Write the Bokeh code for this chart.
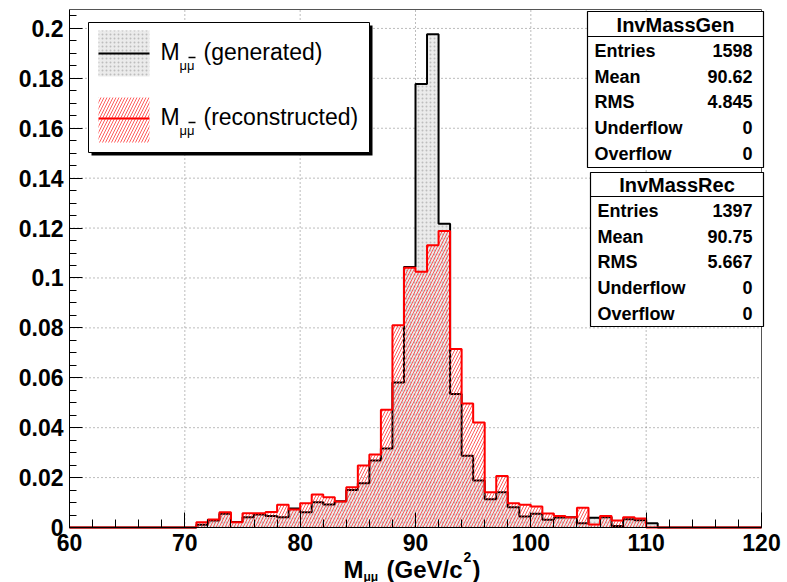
import numpy as np
from bokeh.plotting import figure
from bokeh.models import Range1d, FixedTicker, Label, ColumnDataSource
from bokeh.embed import file_html
from bokeh.resources import INLINE

# ---------------- data ----------------
bin_low = list(range(60, 120))          # 1 GeV bins from 60 to 120
bin_high = [b + 1 for b in bin_low]

# normalised histograms (bins 60..119)
gen = ([0.0] * 11 +
       [0.0011, 0.0028, 0.0055, 0.0022, 0.0041, 0.0052, 0.0046, 0.0041, 0.0076, 0.0061,
        0.0101, 0.0092, 0.0105, 0.0150, 0.0177, 0.0268, 0.0317, 0.0581, 0.1044, 0.1777,
        0.1977, 0.1217, 0.0535, 0.0288, 0.0188, 0.0113, 0.0141, 0.0081, 0.0044, 0.0055,
        0.0031, 0.0040, 0.0041, 0.0017, 0.0039, 0.0041, 0.0006, 0.0033, 0.0029, 0.0017] +
       [0.0] * 9)
rec = ([0.0] * 11 +
       [0.0021, 0.0032, 0.0061, 0.0021, 0.0057, 0.0057, 0.0062, 0.0091, 0.0072, 0.0097,
        0.0132, 0.0121, 0.0104, 0.0161, 0.0248, 0.0293, 0.0472, 0.0811, 0.1041, 0.1025,
        0.1131, 0.1188, 0.0715, 0.0497, 0.0421, 0.0141, 0.0206, 0.0097, 0.0091, 0.0084,
        0.0056, 0.0046, 0.0041, 0.0079, 0.0012, 0.0046, 0.0028, 0.0041, 0.0036, 0.0000] +
       [0.0] * 9)

x_ticks = [60, 70, 80, 90, 100, 110, 120]
x_minor = [62, 64, 66, 68, 72, 74, 76, 78, 82, 84, 86, 88, 92, 94, 96, 98,
           102, 104, 106, 108, 112, 114, 116, 118]
y_ticks = [0, 0.02, 0.04, 0.06, 0.08, 0.1, 0.12, 0.14, 0.16, 0.18, 0.2]
y_labels = ["0", "0.02", "0.04", "0.06", "0.08", "0.1", "0.12", "0.14", "0.16", "0.18", "0.2"]
y_minor = [0.005, 0.01, 0.015, 0.025, 0.03, 0.035, 0.045, 0.05, 0.055, 0.065, 0.07, 0.075,
           0.085, 0.09, 0.095, 0.105, 0.11, 0.115, 0.125, 0.13, 0.135, 0.145, 0.15, 0.155,
           0.165, 0.17, 0.175, 0.185, 0.19, 0.195, 0.205]

stat_names = ["Entries", "Mean", "RMS", "Underflow", "Overflow"]
gen_stats = ["1598", "90.62", "4.845", "0", "0"]
rec_stats = ["1397", "90.75", "5.667", "0", "0"]
leg_gen = "(generated)"
leg_rec = "(reconstructed)"

# ---------------- layout ----------------
W, H = 787, 582
FL, FR, FT, FB = 69, 761, 9, 527      # histogram frame (pixels)
XMIN, XMAX = 60, 120
YMAX = 1.05 * max(gen)

def X(px):
    return XMIN + (px - FL) * (XMAX - XMIN) / (FR - FL)

def Y(py):
    return (FB - py) * YMAX / (FB - FT)

# the drawing area covers the whole page; the axes are pinned at x = 60 and y = 0
FONT = "Liberation Sans"

p = figure(width=W, height=H, x_range=Range1d(X(0), X(W)), y_range=Range1d(Y(H), Y(0)),
           output_backend="svg", toolbar_location=None, title=None,
           min_border_left=0, min_border_right=0, min_border_top=0, min_border_bottom=0)
p.background_fill_color = "white"
p.border_fill_color = "white"
p.outline_line_color = None

p.xaxis.ticker = FixedTicker(ticks=x_ticks, minor_ticks=x_minor)
p.xaxis.fixed_location = 0
p.xaxis.bounds = (XMIN, XMAX)
p.yaxis.ticker = FixedTicker(ticks=y_ticks, minor_ticks=y_minor)
p.yaxis.major_label_overrides = dict(zip(y_ticks, y_labels))
p.yaxis.fixed_location = XMIN
p.yaxis.bounds = (0, YMAX)

for ax in (p.xaxis[0], p.yaxis[0]):
    ax.axis_line_color = "black"
    ax.axis_line_width = 1
    ax.major_tick_out = 0
    ax.minor_tick_out = 0
    ax.major_tick_line_color = "black"
    ax.minor_tick_line_color = "black"
    ax.major_label_text_font = FONT
    ax.major_label_text_font_style = "bold"
    ax.major_label_text_font_size = "23px"
    ax.major_label_text_color = "black"
p.xaxis.major_tick_in = 15
p.xaxis.minor_tick_in = 8
p.yaxis.major_tick_in = 13
p.yaxis.minor_tick_in = 7
p.xaxis.major_label_standoff = 6
p.yaxis.major_label_standoff = 6

p.xgrid.visible = False
p.ygrid.visible = False

# dotted grid at the major ticks, inside the histogram frame only
p.segment(x0=x_ticks[1:-1], y0=0, x1=x_ticks[1:-1], y1=YMAX,
          line_color="#7a7a7a", line_dash="1 3", line_width=1)
p.segment(x0=XMIN, y0=y_ticks[1:], x1=XMAX, y1=y_ticks[1:],
          line_color="#7a7a7a", line_dash="1 3", line_width=1)
# frame: top and right edges
p.segment(x0=[XMIN, XMAX], y0=[YMAX, 0], x1=[XMAX, XMAX], y1=[YMAX, YMAX],
          line_color="#555555", line_width=1)

# ---------------- histograms ----------------
def step_path(lo, hi, vals):
    xs, ys = [lo[0]], [0.0]
    for l, h, v in zip(lo, hi, vals):
        xs += [l, h]
        ys += [v, v]
    xs.append(hi[-1])
    ys.append(0.0)
    return xs, ys

src_gen = ColumnDataSource(dict(left=bin_low, right=bin_high, top=gen))
src_rec = ColumnDataSource(dict(left=bin_low, right=bin_high, top=rec))

p.quad(left="left", right="right", bottom=0, top="top", source=src_gen,
       fill_color="#ebebeb", line_color=None,
       hatch_pattern=".", hatch_color="#bdbdbd", hatch_scale=4, hatch_weight=1)
gx, gy = step_path(bin_low, bin_high, gen)
p.line(gx, gy, line_color="black", line_width=2)

p.quad(left="left", right="right", bottom=0, top="top", source=src_rec,
       fill_alpha=0, line_color=None,
       hatch_pattern="/", hatch_color="#ff3333", hatch_alpha=0.8,
       hatch_scale=6, hatch_weight=1)
rx, ry = step_path(bin_low, bin_high, rec)
p.line(rx, ry, line_color="red", line_width=2)

# ---------------- legend ----------------
p.quad(left=[X(91)], right=[X(372)], top=[Y(25)], bottom=[Y(155)],
       fill_color="black", line_color=None)
p.quad(left=[X(88)], right=[X(369)], top=[Y(22)], bottom=[Y(152)],
       fill_color="white", line_color="black", line_width=1)
p.quad(left=[X(98)], right=[X(149)], top=[Y(30)], bottom=[Y(76)],
       fill_color="#ebebeb", line_color=None,
       hatch_pattern=".", hatch_color="#bdbdbd", hatch_scale=4, hatch_weight=1)
p.segment(x0=[X(98)], y0=[Y(53)], x1=[X(149)], y1=[Y(53)], line_color="black", line_width=2)
p.quad(left=[X(98)], right=[X(149)], top=[Y(97)], bottom=[Y(142)],
       fill_alpha=0, line_color=None,
       hatch_pattern="/", hatch_color="#ff3333", hatch_alpha=0.8, hatch_scale=6, hatch_weight=1)
p.segment(x0=[X(98)], y0=[Y(118)], x1=[X(149)], y1=[Y(118)], line_color="red", line_width=2)
# overbars on the second mu
p.segment(x0=[X(188), X(188)], y0=[Y(57), Y(122)], x1=[X(195), X(195)], y1=[Y(57), Y(122)],
          line_color="black", line_width=1.5)

for ty, txt in ((51, leg_gen), (116, leg_rec)):
    p.add_layout(Label(x=X(160), y=Y(ty), text="M", text_align="left", text_baseline="middle",
                       text_font=FONT, text_font_size="23px", text_color="black"))
    p.add_layout(Label(x=X(179), y=Y(ty + 14), text="μμ", text_align="left",
                       text_baseline="middle", text_font=FONT, text_font_size="13px",
                       text_color="black"))
    p.add_layout(Label(x=X(203), y=Y(ty), text=txt, text_align="left", text_baseline="middle",
                       text_font=FONT, text_font_size="23px", text_color="black"))

# ---------------- stats boxes ----------------
def stats_box(left, right, top, bottom, line_y, title, title_y, rows_y, text_left, values):
    p.quad(left=[X(left)], right=[X(right)], top=[Y(top)], bottom=[Y(bottom)],
           fill_color="white", line_color="black", line_width=1.2)
    p.segment(x0=[X(left)], y0=[Y(line_y)], x1=[X(right)], y1=[Y(line_y)],
              line_color="black", line_width=1.2)
    p.add_layout(Label(x=X((left + right) / 2), y=Y(title_y), text=title, text_align="center",
                       text_baseline="middle", text_font=FONT, text_font_size="20px",
                       text_font_style="bold", text_color="black"))
    for ry_, name, val in zip(rows_y, stat_names, values):
        p.add_layout(Label(x=X(text_left), y=Y(ry_), text=name, text_align="left",
                           text_baseline="middle", text_font=FONT, text_font_size="18px",
                           text_font_style="bold", text_color="black"))
        p.add_layout(Label(x=X(752), y=Y(ry_), text=val, text_align="right",
                           text_baseline="middle", text_font=FONT, text_font_size="18px",
                           text_font_style="bold", text_color="black"))

stats_box(587, 763, 11, 167, 36, "InvMassGen", 24, [50, 76, 101, 127, 153], 594, gen_stats)
stats_box(590, 763, 172, 326, 196, "InvMassRec", 184, [210, 236, 261, 287, 313], 597, rec_stats)

# ---------------- x-axis title ----------------
for px_, py_, txt, size in ((343, 569, "M", "24px"), (363, 576, "μμ", "12px"),
                            (386, 569, "(GeV/c", "24px"), (463, 556, "2", "14px"),
                            (472, 569, ")", "24px")):
    p.add_layout(Label(x=X(px_), y=Y(py_), text=txt, text_align="left", text_baseline="middle",
                       text_font=FONT, text_font_size=size, text_font_style="bold",
                       text_color="black"))

open("out.html", "w").write(file_html(p, INLINE))
